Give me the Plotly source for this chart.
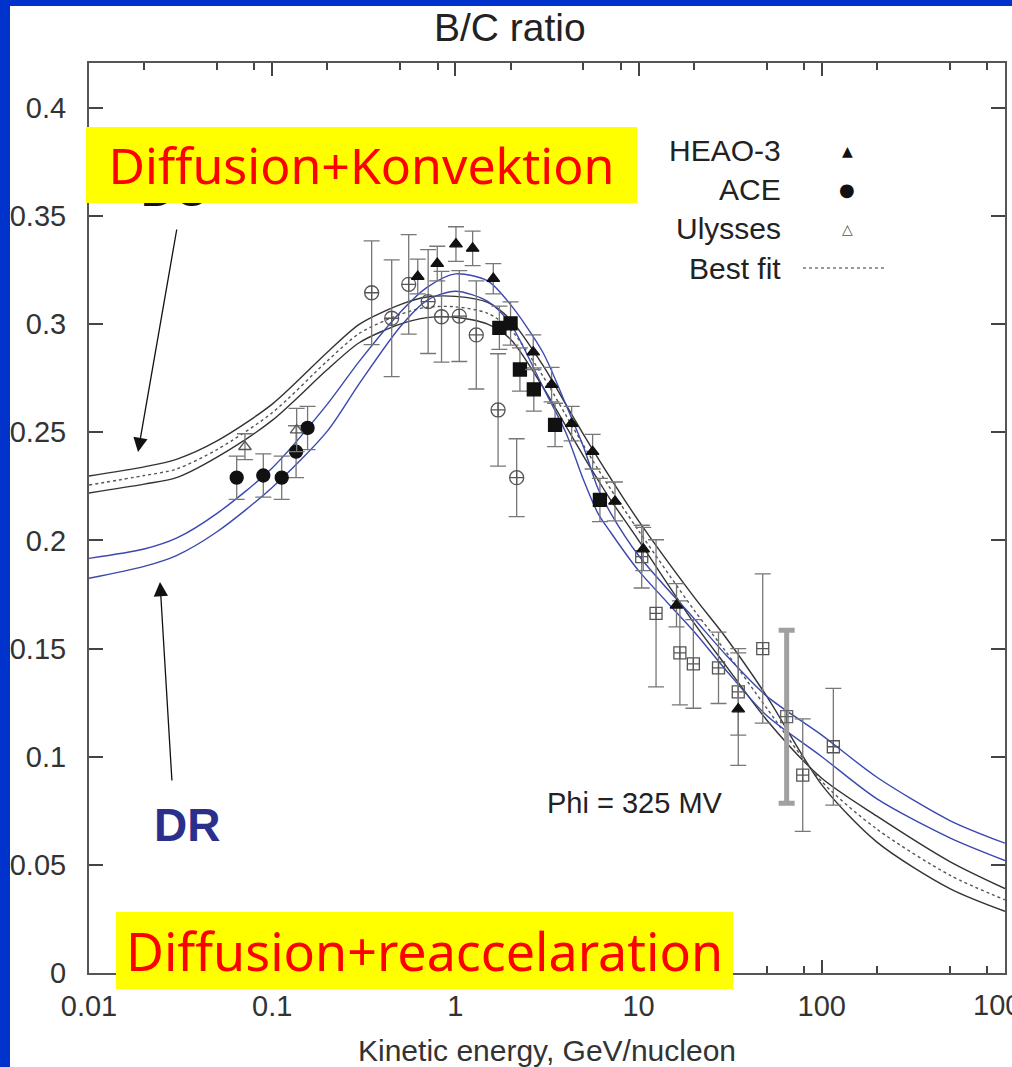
import plotly.graph_objects as go

# ---------------- data ----------------
x_tickvals = [0.01, 0.1, 1, 10, 100, 1000]
x_ticktext = ["0.01", "0.1", "1", "10", "100", ""]
x_last_label = "1000"
x_minor_vals = [0.02, 0.05, 0.08, 0.2, 0.5, 0.8, 2, 5, 8, 20, 50, 80, 200, 500, 800]
y_tickvals = [0, 0.05, 0.1, 0.15, 0.2, 0.25, 0.3, 0.35, 0.4]
y_ticktext = ["0", "0.05", "0.1", "0.15", "0.2", "0.25", "0.3", "0.35", "0.4"]

# model curves (kinetic energy GeV/nucleon)
energy_model = [0.01, 0.02, 0.03, 0.05, 0.1, 0.2, 0.3, 0.5, 0.7, 1, 1.5, 2, 3, 4, 5, 6, 7,
                10, 20, 30, 50, 100, 200, 500, 1000]
dc_upper = [0.2298, 0.234, 0.2375, 0.246, 0.263, 0.287, 0.300, 0.309, 0.3125, 0.3128, 0.310,
            0.302, 0.281, 0.263, 0.249, 0.238, 0.229, 0.209, 0.174, 0.155, 0.128, 0.087,
            0.0605, 0.039, 0.0285]
dc_lower = [0.2219, 0.226, 0.229, 0.2385, 0.2555, 0.279, 0.2915, 0.300, 0.303, 0.3032, 0.300,
            0.293, 0.271, 0.253, 0.239, 0.228, 0.219, 0.200, 0.162, 0.142, 0.117, 0.090,
            0.0725, 0.0515, 0.039]
best_fit = [0.2256, 0.230, 0.233, 0.242, 0.259, 0.283, 0.2958, 0.3045, 0.3078, 0.308, 0.305,
            0.2975, 0.276, 0.258, 0.244, 0.233, 0.224, 0.2045, 0.168, 0.1485, 0.1225, 0.0885,
            0.0665, 0.0452, 0.0338]
dr_upper = [0.1917, 0.196, 0.201, 0.2125, 0.2335, 0.263, 0.283, 0.3055, 0.317, 0.3232, 0.320,
            0.309, 0.287, 0.263, 0.2433, 0.224, 0.213, 0.193, 0.164, 0.147, 0.128, 0.110,
            0.0905, 0.0705, 0.060]
dr_lower = [0.1825, 0.188, 0.193, 0.204, 0.2245, 0.2505, 0.2727, 0.2988, 0.311, 0.3152, 0.3105,
            0.300, 0.271, 0.250, 0.228, 0.2125, 0.204, 0.186, 0.158, 0.140, 0.119, 0.100,
            0.0805, 0.0625, 0.052]

# HEAO-3 (filled triangles)
heao_e = [0.623, 0.796, 1.007, 1.242, 1.61, 2.66, 3.35, 4.31, 5.61, 7.43, 10.6, 16.1, 35.0]
heao_bc = [0.322, 0.328, 0.337, 0.335, 0.321, 0.287, 0.272, 0.254, 0.241, 0.218, 0.196, 0.170, 0.122]
heao_err = [0.008, 0.008, 0.008, 0.008, 0.007, 0.008, 0.008, 0.008, 0.008, 0.009, 0.010, 0.010, 0.026]

# ACE (filled circles)
ace_e = [0.064, 0.0894, 0.1127, 0.135, 0.156]
ace_bc = [0.229, 0.230, 0.229, 0.241, 0.252]
ace_err = [0.010, 0.010, 0.010, 0.012, 0.010]

# Ulysses (open triangles)
uly_e = [0.071, 0.136]
uly_bc = [0.2433, 0.251]
uly_err = [0.006, 0.010]

# other data: open circles
oc_e = [0.349, 0.449, 0.556, 0.71, 0.84, 1.05, 1.30, 1.71, 2.16]
oc_bc = [0.3145, 0.3027, 0.3184, 0.3104, 0.3034, 0.3037, 0.295, 0.2603, 0.229]
oc_err = [0.024, 0.027, 0.023, 0.024, 0.021, 0.021, 0.025, 0.026, 0.018]

# other data: filled squares
fs_e = [1.738, 2.0, 2.25, 2.68, 3.50, 6.15]
fs_bc = [0.2983, 0.3003, 0.279, 0.2698, 0.2534, 0.2187]
fs_err = [0.010, 0.010, 0.010, 0.010, 0.010, 0.010]

# other data: open squares
os_e = [10.4, 12.45, 16.8, 19.9, 27.3, 35.0, 47.6, 78.7, 115.6]
os_bc = [0.1925, 0.1663, 0.148, 0.1429, 0.1411, 0.130, 0.150, 0.0915, 0.1046]
os_err = [0.0145, 0.034, 0.024, 0.0205, 0.0165, 0.020, 0.0345, 0.026, 0.027]
os_thick_e = [64.3]
os_thick_bc = [0.1185]
os_thick_err = [0.040]

# ---------------- layout geometry ----------------
W, H = 1012, 1067
L, R, T, B = 89, 1005, 63, 973


def px(xp):
    return (xp - L) / (R - L)


def py(yp):
    return (B - yp) / (B - T)


FONT = "Liberation Sans, Arial, Helvetica, sans-serif"
ERRC = "#777777"

fig = go.Figure()

curve_style = dict(mode="lines", hoverinfo="skip", showlegend=False)
fig.add_trace(go.Scatter(x=energy_model, y=dc_upper, line=dict(color="#333333", width=1.4, shape="spline", smoothing=0.8), **curve_style))
fig.add_trace(go.Scatter(x=energy_model, y=dc_lower, line=dict(color="#333333", width=1.4, shape="spline", smoothing=0.8), **curve_style))
fig.add_trace(go.Scatter(x=energy_model, y=best_fit, line=dict(color="#555555", width=1.4, dash="dot", shape="spline", smoothing=0.8), **curve_style))
fig.add_trace(go.Scatter(x=energy_model, y=dr_upper, line=dict(color="#3a48b0", width=1.4, shape="spline", smoothing=0.8), **curve_style))
fig.add_trace(go.Scatter(x=energy_model, y=dr_lower, line=dict(color="#3a48b0", width=1.4, shape="spline", smoothing=0.8), **curve_style))


def data_trace(xs, ys, errs, symbol, size, color="#111111", thick=1.3, lw=1.3, errc=ERRC, capw=8):
    return go.Scatter(
        x=xs, y=ys, mode="markers", showlegend=False,
        marker=dict(symbol=symbol, size=size, color=color, line=dict(color=color, width=lw)),
        error_y=dict(type="data", array=errs, color=errc, thickness=thick, width=capw),
    )


fig.add_trace(data_trace(os_thick_e, os_thick_bc, os_thick_err, "square-cross-open", 12,
                         color="#666666", thick=5, errc="#a0a0a0", capw=8))
fig.add_trace(data_trace(os_e, os_bc, os_err, "square-cross-open", 12, color="#555555"))
fig.add_trace(data_trace(oc_e, oc_bc, oc_err, "circle-cross-open", 14, color="#555555"))
fig.add_trace(data_trace(fs_e, fs_bc, fs_err, "square", 13))
fig.add_trace(data_trace(ace_e, ace_bc, ace_err, "circle", 13))
fig.add_trace(data_trace(uly_e, uly_bc, uly_err, "triangle-up-open", 11, color="#555555"))
fig.add_trace(data_trace(heao_e, heao_bc, heao_err, "triangle-up", 11))

axis_common = dict(
    showline=True, linecolor="#555555", linewidth=2, mirror="ticks",
    ticks="inside", tickcolor="#444444", tickwidth=2,
    tickfont=dict(family=FONT, size=29, color="#333333"),
    showgrid=False, zeroline=False, fixedrange=True, automargin=False,
)
fig.update_xaxes(
    type="log", range=[-2, 3], tickmode="array", tickvals=x_tickvals, ticktext=x_ticktext,
    ticklen=13, ticklabelstandoff=6,
    minor=dict(tickmode="array", tickvals=x_minor_vals, ticks="inside", ticklen=7,
               tickcolor="#444444", tickwidth=1.5, showgrid=False),
    **axis_common,
)
fig.update_yaxes(
    range=[0, (B - T) / 2163.0], tickmode="array", tickvals=y_tickvals, ticktext=y_ticktext,
    ticklen=14, ticklabelstandoff=15,
    **axis_common,
)

shapes = [
    # blue frame strips
    dict(type="rect", xref="paper", yref="paper", x0=px(0), x1=px(10), y0=py(H), y1=py(0),
         fillcolor="#0033cc", line=dict(width=0), layer="above"),
    dict(type="rect", xref="paper", yref="paper", x0=px(0), x1=px(W), y0=py(6), y1=py(0),
         fillcolor="#0033cc", line=dict(width=0), layer="above"),
    # legend dotted line
    dict(type="line", xref="paper", yref="paper", x0=px(803), x1=px(885), y0=py(268), y1=py(268),
         line=dict(color="#777777", width=1.5, dash="dot"), layer="above"),
]

ann = []


def text_ann(x, y, text, size, color="#222222", family=FONT, xanchor="center", **kw):
    d = dict(xref="paper", yref="paper", x=px(x), y=py(y), text=text, showarrow=False,
             xanchor=xanchor, yanchor="middle", font=dict(family=family, size=size, color=color))
    d.update(kw)
    return d


ann.append(text_ann(510, 28, "B/C ratio", 39))
ann.append(text_ann(547, 1050, "Kinetic energy, GeV/nucleon", 30, color="#333333"))
ann.append(text_ann(1005, 1005, x_last_label, 29, color="#333333"))
ann.append(text_ann(635, 803, "Phi = 325 MV", 29))
# legend
ann.append(text_ann(783, 150, "HEAO-3", 30, xanchor="right"))
ann.append(text_ann(783, 190, "ACE", 30, xanchor="right"))
ann.append(text_ann(783, 228, "Ulysses", 30, xanchor="right"))
ann.append(text_ann(783, 268, "Best fit", 30, xanchor="right"))
ann.append(text_ann(847, 151, "▲", 14, color="#111111", family="DejaVu Sans"))
ann.append(text_ann(847, 190, "●", 18, color="#111111", family="DejaVu Sans"))
ann.append(text_ann(847, 229, "△", 14, color="#555555", family="DejaVu Sans"))
# DC (mostly hidden by the yellow box) / DR labels
ann.append(text_ann(174, 190, "<b>DC</b>", 46, color="#111111"))
ann.append(text_ann(187, 825, "<b>DR</b>", 46, color="#2b2f8c"))
# arrows
ann.append(dict(xref="paper", yref="paper", x=px(138), y=py(452), ax=177 - 138, ay=228 - 452,
                axref="pixel", ayref="pixel", text="", showarrow=True, arrowhead=2,
                arrowsize=2.2, arrowwidth=1.3, arrowcolor="#111111", standoff=0))
ann.append(dict(xref="paper", yref="paper", x=px(160), y=py(582), ax=172 - 160, ay=782 - 582,
                axref="pixel", ayref="pixel", text="", showarrow=True, arrowhead=2,
                arrowsize=2.2, arrowwidth=1.3, arrowcolor="#111111", standoff=0))
# yellow boxes
ann.append(text_ann(361.5, 165, "Diffusion+Konvektion", 50, color="#ff0000", family="Noto Sans",
                    bgcolor="#ffff00", width=551, height=76, borderpad=0, borderwidth=0))
ann.append(text_ann(424.5, 950.5, "Diffusion+reaccelaration", 52, color="#ff0000", family="Noto Sans",
                    bgcolor="#ffff00", width=617, height=77, borderpad=0, borderwidth=0))

fig.update_layout(
    width=W, height=H,
    margin=dict(l=L, r=W - R, t=T, b=H - B, pad=0, autoexpand=False),
    paper_bgcolor="white", plot_bgcolor="white",
    showlegend=False,
    shapes=shapes, annotations=ann,
)

fig.write_html("out.html")
